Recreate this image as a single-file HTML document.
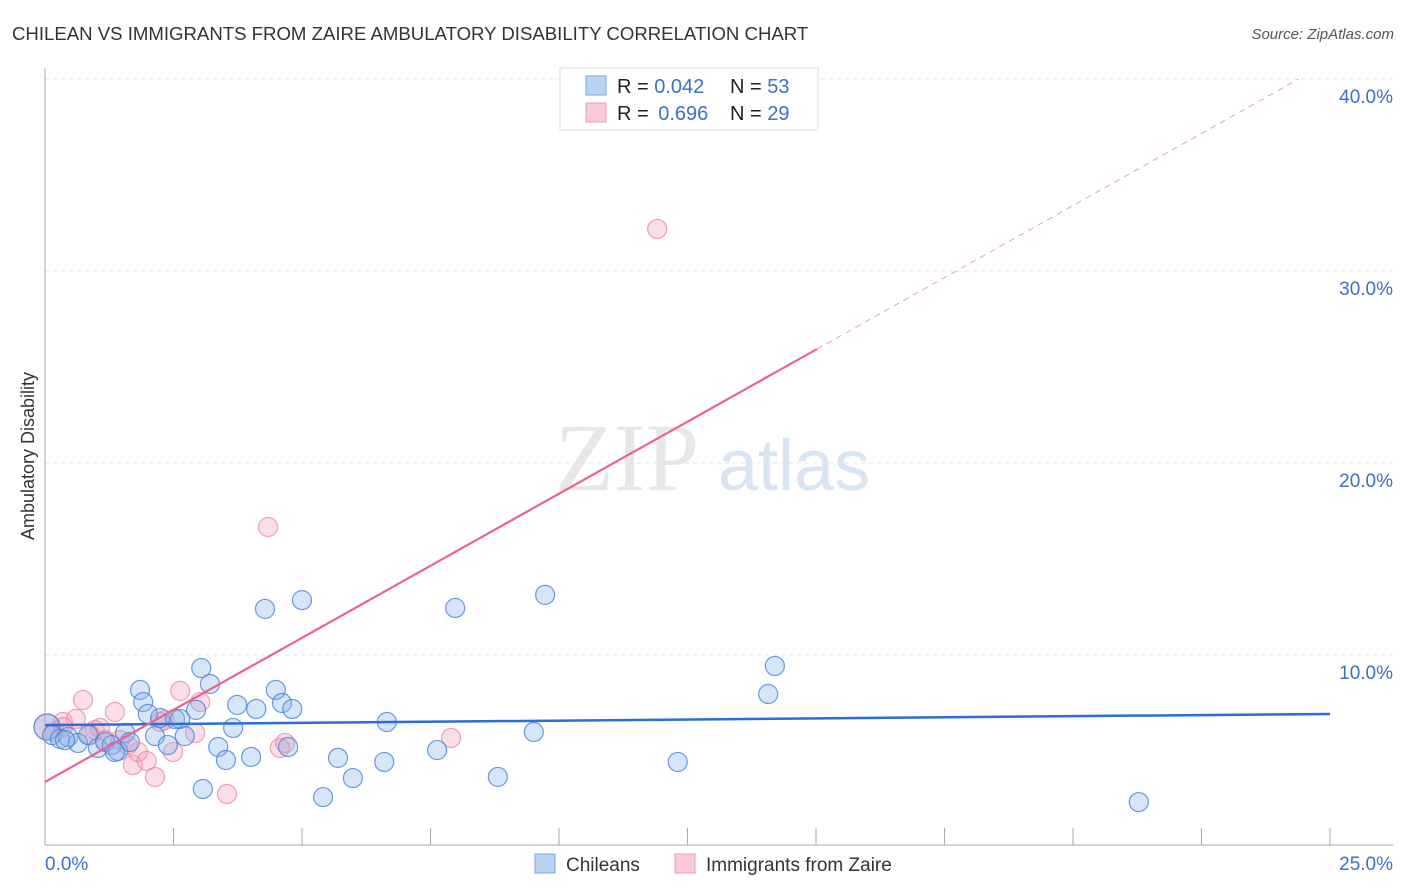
<!DOCTYPE html>
<html><head><meta charset="utf-8"><style>
body{margin:0;background:#fff;font-family:"Liberation Sans",sans-serif;}
#c{position:absolute;left:0;top:0;}
</style></head><body>
<svg id="c" width="1406" height="892">
<text x="12" y="40" font-size="18.6" fill="#333">CHILEAN VS IMMIGRANTS FROM ZAIRE AMBULATORY DISABILITY CORRELATION CHART</text>
<text x="1394" y="39" font-size="15" fill="#555" font-style="italic" text-anchor="end">Source: ZipAtlas.com</text>
<text transform="translate(34,456) rotate(-90)" font-size="18" fill="#333" text-anchor="middle">Ambulatory Disability</text>
<g opacity="0.6"><text x="555" y="490" font-size="96" font-family="Liberation Serif,serif" fill="#d8d8d8">ZIP</text><text x="718" y="490" font-size="72" fill="#c0d4ee">atlas</text></g>
<g id="grid"></g><g id="axes"></g><g id="pts"></g><g id="lines"></g>
<g>
<rect x="560" y="68" width="258" height="62" fill="#fff" stroke="#ddd"/>
<rect x="586" y="76" width="20" height="19" fill="#b9d3f5" stroke="#7aa6e3"/>
<rect x="586" y="103" width="20" height="19" fill="#f9c9d7" stroke="#ee9ab3"/>
<text x="617" y="93" font-size="20" fill="#222">R = <tspan fill="#3a6fd0">0.042</tspan></text><text x="730" y="93" font-size="20" fill="#222">N = <tspan fill="#3a6fd0">53</tspan></text>
<text x="617" y="120" font-size="20" fill="#222">R = <tspan fill="#3a6fd0" dx="4">0.696</tspan></text><text x="730" y="120" font-size="20" fill="#222">N = <tspan fill="#3a6fd0">29</tspan></text>
</g>
<g>
<rect x="535" y="854" width="20" height="19" fill="#b9d3f5" stroke="#7aa6e3"/><text x="566" y="871" font-size="19" fill="#333">Chileans</text>
<rect x="675" y="854" width="20" height="19" fill="#f9c9d7" stroke="#ee9ab3"/><text x="706" y="871" font-size="19" fill="#333">Immigrants from Zaire</text>
</g>
</svg>
<script>
const yTicks=[10,20,30,40];
const xTickLabels=["0.0%","25.0%"];
const blueX=[0.04,0.14,0.29,0.45,0.64,0.84,1.03,1.17,1.30,1.42,1.56,1.65,1.85,1.91,2.00,2.14,2.24,2.39,2.53,2.63,2.72,2.94,3.04,3.21,3.37,3.52,3.66,3.74,4.01,4.11,4.28,4.49,4.61,4.73,4.81,5.00,5.41,5.70,5.99,6.60,6.65,7.63,7.98,8.81,9.51,9.73,12.31,14.07,14.20,21.28,3.07,1.36,0.39];
const blueY=[6.25,5.83,5.63,5.73,5.42,5.83,5.16,5.47,5.31,5.00,5.94,5.47,8.18,7.55,6.93,5.78,6.72,5.31,6.67,6.67,5.78,7.14,9.32,8.49,5.21,4.53,6.20,7.40,4.69,7.19,12.40,8.18,7.50,5.21,7.19,12.86,2.60,4.64,3.59,4.43,6.51,5.05,12.45,3.65,5.99,13.13,4.43,7.97,9.43,2.34,3.02,4.95,5.57];
const pinkX=[0.04,0.19,0.35,0.60,0.74,0.97,1.07,1.36,1.46,1.61,1.71,1.81,1.98,2.14,2.33,2.49,2.63,2.92,3.02,3.54,4.34,4.57,4.67,7.90,11.91,0.35,1.17,2.24,0.88];
const pinkY=[6.25,5.99,6.51,6.67,7.66,6.09,6.20,7.03,5.57,5.31,4.27,4.95,4.48,3.65,6.61,4.95,8.13,5.94,7.55,2.76,16.67,5.16,5.42,5.68,32.19,6.25,5.57,6.51,5.83];
const blueFit=[6.35,0.0232];
const pinkFit=[3.39,1.501];
const pinkSolidEnd=15.02;
const NS="http://www.w3.org/2000/svg";
const X=v=>45+v/25*1285, Y=v=>847-v*19.2;
function mk(t,a,p){const e=document.createElementNS(NS,t);for(const k in a)e.setAttribute(k,a[k]);p.appendChild(e);return e;}
const g=document.getElementById('grid'),ax=document.getElementById('axes'),pts=document.getElementById('pts'),ln=document.getElementById('lines');
yTicks.forEach(t=>{const l=mk('line',{x1:45,x2:1393,y1:Y(t),y2:Y(t),stroke:'#e4e4e4','stroke-dasharray':'4,4'},g);


const tx=mk('text',{x:1393,y:Y(t)+24,'font-size':19,fill:'#3a6fd0','text-anchor':'end'},g);tx.textContent=t.toFixed(1)+'%';

});
mk('line',{x1:45,x2:45,y1:68,y2:845,stroke:'#aaa'},ax);
mk('line',{x1:45,x2:1393,y1:845,y2:845,stroke:'#aaa'},ax);
for(let i=0;i<=10;i++){const l=mk('line',{x1:X(i*2.5),x2:X(i*2.5),y1:828,y2:845,stroke:'#aaa'},ax);

}
const t0=mk('text',{x:45,y:870,'font-size':19,fill:'#3a6fd0'},ax);t0.textContent=xTickLabels[0];


const t1=mk('text',{x:1393,y:870,'font-size':19,fill:'#3a6fd0','text-anchor':'end'},ax);t1.textContent=xTickLabels[1];


pinkX.forEach((x,i)=>{const c=mk('circle',{cx:X(x),cy:Y(pinkY[i]),r:i==0?13:9.5,fill:'rgba(244,160,185,0.35)',stroke:'rgba(236,130,160,0.75)','stroke-width':1.2},pts);

});
blueX.forEach((x,i)=>{const c=mk('circle',{cx:X(x),cy:Y(blueY[i]),r:i==0?13:9.5,fill:'rgba(140,180,235,0.35)',stroke:'rgba(70,130,215,0.8)','stroke-width':1.2},pts);

});
const bl=mk('line',{x1:X(0),y1:Y(blueFit[0]),x2:X(25),y2:Y(blueFit[0]+blueFit[1]*25),stroke:'#2a6fd6','stroke-width':2.5},ln);


const pl=mk('line',{x1:X(0),y1:Y(pinkFit[0]),x2:X(pinkSolidEnd),y2:Y(pinkFit[0]+pinkFit[1]*pinkSolidEnd),stroke:'#e8648e','stroke-width':2.2},ln);


const xe=(40-pinkFit[0])/pinkFit[1];
const pd=mk('line',{x1:X(pinkSolidEnd),y1:Y(pinkFit[0]+pinkFit[1]*pinkSolidEnd),x2:X(xe),y2:Y(40),stroke:'#eaa0b8','stroke-width':1,'stroke-dasharray':'6,5'},ln);


</script>
</body></html>
